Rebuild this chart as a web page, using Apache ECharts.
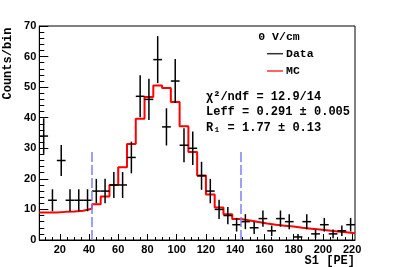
<!DOCTYPE html>
<html>
<head>
<meta charset="utf-8">
<script src="https://cdn.jsdelivr.net/npm/echarts@6/dist/echarts.min.js"></script>
<style>html,body{margin:0;padding:0;background:#fff}#c{width:395px;height:267px}</style>
</head>
<body>
<div id="c"></div>
<script>
// Bin centers (S1 [PE]) and bin edges
const binCenters = [9,15,21,27,33,39,45,51,57,63,69,75,81,87,93,99,105,111,117,123,129,135,141,147,153,159,165,171,177,183,189,195,201,207,213,219];
const binEdges = [6,12,18,24,30,36,42,48,54,60,66,72,78,84,90,96,102,108,114,120,126,132,138,144,150,156,162,168,174,180,186,192,198,204,210,216,222];
// Data counts per bin
const dataCounts = [34,13,26,13,13,13,16,16,18,18,27,47,46,59,37,52,31,30,21,16,10,8,5,6,4,7,3,7,6,1,6,2,5,2,3,5];
// MC histogram per bin
const mcCounts = [9.0,9.0,9.2,9.3,9.6,10.2,11.7,14.2,18.0,23.8,31.4,39.7,46.8,50.5,49.7,45.1,37.2,28.8,21.1,14.9,10.6,8.4,6.9,6.4,5.9,5.4,5.0,4.7,4.4,4.0,3.7,3.4,3.1,2.8,2.5,2.2];
// Fit range markers
const cutLines = [42,144];
const cutTop = 29.5;
// Axis ticks
const xMajorTicks = [20,40,60,80,100,120,140,160,180,200,220];
const xMinorTicks = [10,15,25,30,35,45,50,55,65,70,75,85,90,95,105,110,115,125,130,135,145,150,155,165,170,175,185,190,195,205,210,215];

const mcStep = binEdges.map((e,i)=>[e, mcCounts[Math.min(i, mcCounts.length-1)]]);
const dataPts = binCenters.map((x,i)=>[x, dataCounts[i]]);
const halfBin = 3;

const chart = echarts.init(document.getElementById('c'));
const mono = '"Liberation Mono","DejaVu Sans Mono",monospace';
const sans = '"Liberation Sans",Arial,sans-serif';

chart.setOption({
  animation:false,
  grid:{left:39.3, right:40, top:26, bottom:27, show:true, borderColor:'#000', borderWidth:1, backgroundColor:'transparent'},
  xAxis:[{
    type:'value', min:6, max:222,
    axisLine:{show:true, lineStyle:{color:'#000', width:1}},
    axisTick:{show:true, inside:true, length:6, customValues:xMajorTicks, lineStyle:{color:'#000'}},
    axisLabel:{customValues:xMajorTicks, color:'#000', fontFamily:sans, fontWeight:'bold', fontSize:11, margin:4},
    splitLine:{show:false}
  },{
    type:'value', min:6, max:222, position:'bottom',
    axisLine:{show:false},
    axisTick:{show:true, inside:true, length:3, customValues:xMinorTicks, lineStyle:{color:'#000'}},
    axisLabel:{show:false},
    splitLine:{show:false}
  }],
  yAxis:{
    type:'value', min:0, max:70, interval:10,
    axisLine:{show:true, lineStyle:{color:'#000', width:1}},
    axisTick:{show:true, inside:true, length:9, lineStyle:{color:'#000'}},
    minorTick:{show:true, splitNumber:5, length:5, lineStyle:{color:'#000'}},
    axisLabel:{color:'#000', fontFamily:sans, fontWeight:'bold', fontSize:11, margin:3},
    splitLine:{show:false}
  },
  series:[
    {
      type:'line', step:'end', data:mcStep, symbol:'none',
      lineStyle:{color:'#ff0000', width:2}, z:3, clip:true
    },
    {
      type:'custom', data:dataPts, z:4, clip:true,
      renderItem:function(params, api){
        const x = api.value(0), y = api.value(1), e = Math.sqrt(y);
        const lo = Math.max(0, y-e);
        const p0 = api.coord([x, lo]), p1 = api.coord([x, y+e]);
        const pl = api.coord([x-halfBin, y]), pr = api.coord([x+halfBin, y]);
        return {type:'group', children:[
          {type:'line', shape:{x1:p0[0],y1:p0[1],x2:p1[0],y2:p1[1]}, style:{stroke:'#000', lineWidth:1.5}},
          {type:'line', shape:{x1:pl[0],y1:pl[1],x2:pr[0],y2:pr[1]}, style:{stroke:'#000', lineWidth:1.5}}
        ]};
      }
    },
    {
      type:'line', data:[], symbol:'none',
      markLine:{
        silent:true, symbol:'none', label:{show:false},
        lineStyle:{color:'#7f7fff', width:1.5, type:[10,3]},
        data: cutLines.map(v=>[{coord:[v,0]},{coord:[v,cutTop]}])
      }
    }
  ],
  graphic:[
    {type:'text', x:8, y:63.5, rotation:Math.PI/2, style:{text:'Counts/bin', font:'bold 12px '+mono, fill:'#000', align:'center', verticalAlign:'middle'}},
    {type:'text', x:355, y:261, style:{text:'S1 [PE]', font:'bold 12px '+mono, fill:'#000', align:'right', verticalAlign:'middle'}},
    {type:'text', x:279, y:37.3, style:{text:'0 V/cm', font:'bold 11.5px '+mono, fill:'#000', align:'center', verticalAlign:'middle'}},
    {type:'line', shape:{x1:267,y1:53.7,x2:283,y2:53.7}, style:{stroke:'#333', lineWidth:1.5}},
    {type:'text', x:286, y:53.7, style:{text:'Data', font:'bold 11.5px '+mono, fill:'#000', align:'left', verticalAlign:'middle'}},
    {type:'line', shape:{x1:267,y1:71,x2:283,y2:71}, style:{stroke:'#ff3030', lineWidth:1.5}},
    {type:'text', x:286, y:71, style:{text:'MC', font:'bold 11.5px '+mono, fill:'#000', align:'left', verticalAlign:'middle'}},
    {type:'text', x:206, y:96.7, style:{text:'χ²/ndf = 12.9/14', font:'bold 12px '+mono, fill:'#000', align:'left', verticalAlign:'middle'}},
    {type:'text', x:206, y:112.3, style:{text:'Leff = 0.291 ± 0.005', font:'bold 12px '+mono, fill:'#000', align:'left', verticalAlign:'middle'}},
    {type:'text', x:206, y:128.3, style:{text:'R₁ = 1.77 ± 0.13', font:'bold 12px '+mono, fill:'#000', align:'left', verticalAlign:'middle'}}
  ]
});
</script>
</body>
</html>
